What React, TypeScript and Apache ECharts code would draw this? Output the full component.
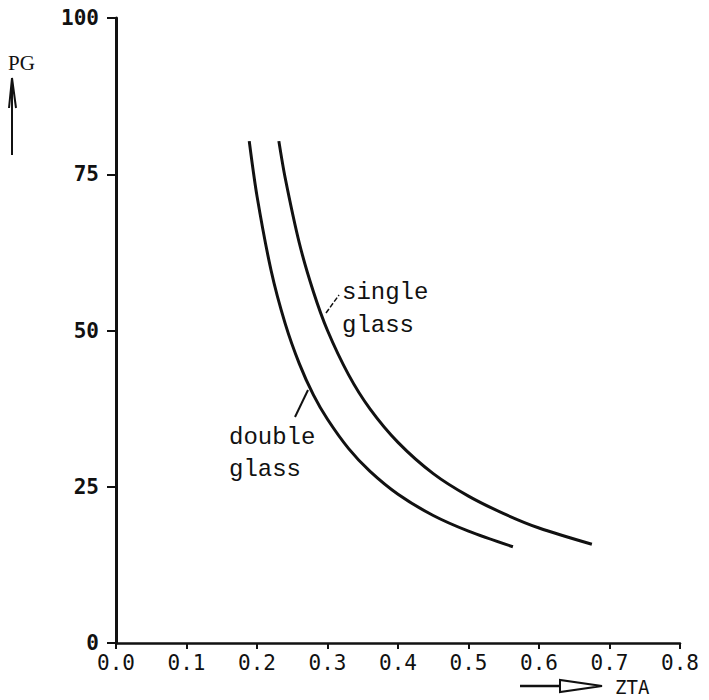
import React, { useEffect, useRef } from "react";
import * as echarts from "echarts";

const xTicks = [0, 0.1, 0.2, 0.3, 0.4, 0.5, 0.6, 0.7, 0.8];
const yTicks = [0, 25, 50, 75, 100];

const doubleX = [0.189, 0.2, 0.22, 0.24, 0.26, 0.28, 0.3, 0.33, 0.36, 0.4, 0.45, 0.5, 0.563];
const doubleY = [80.3, 71.5, 59.6, 51.1, 44.7, 39.7, 35.8, 31.1, 27.5, 23.8, 20.4, 17.9, 15.4];

const singleX = [0.231, 0.24, 0.26, 0.28, 0.3, 0.33, 0.36, 0.4, 0.45, 0.5, 0.55, 0.6, 0.675];
const singleY = [80.3, 74.4, 64.0, 56.2, 50.0, 42.9, 37.5, 32.1, 27.1, 23.5, 20.7, 18.4, 15.8];

const xName = "ZTA";
const yName = "PG";
const singleLabel = ["single", "glass"];
const doubleLabel = ["double", "glass"];

const tickFont = "'DejaVu Sans Mono', monospace";
const typeFont = "'Liberation Mono', 'Courier New', monospace";

export default function App() {
  const ref = useRef<HTMLDivElement>(null);
  useEffect(() => {
    if (!ref.current) return;
    const chart = echarts.init(ref.current, null, { renderer: "svg" });
    const zip = (xs: number[], ys: number[]) => xs.map((x, i) => [x, ys[i]]);
    chart.setOption({
      animation: false,
      backgroundColor: "#ffffff",
      grid: { left: 116, right: 29, top: 18, bottom: 57, containLabel: false },
      xAxis: {
        type: "value",
        min: xTicks[0],
        max: xTicks[xTicks.length - 1],
        interval: 0.1,
        axisLine: { show: true, lineStyle: { color: "#111", width: 2.5 } },
        axisTick: { show: true, length: 6, lineStyle: { color: "#111", width: 2 } },
        splitLine: { show: false },
        axisLabel: {
          margin: 9,
          color: "#111",
          fontFamily: tickFont,
          fontSize: 21,
          formatter: (v: number) => v.toFixed(1),
        },
      },
      yAxis: {
        type: "value",
        min: yTicks[0],
        max: yTicks[yTicks.length - 1],
        interval: 25,
        axisLine: { show: true, lineStyle: { color: "#111", width: 3 } },
        axisTick: { show: true, length: 9, lineStyle: { color: "#111", width: 2 } },
        splitLine: { show: false },
        axisLabel: {
          margin: 17,
          color: "#111",
          fontFamily: tickFont,
          fontSize: 21,
          fontWeight: "bold",
        },
      },
      series: [
        {
          name: "double glass",
          type: "line",
          data: zip(doubleX, doubleY),
          smooth: 0.3,
          showSymbol: false,
          lineStyle: { color: "#111", width: 3 },
        },
        {
          name: "single glass",
          type: "line",
          data: zip(singleX, singleY),
          smooth: 0.3,
          showSymbol: false,
          lineStyle: { color: "#111", width: 3 },
        },
      ],
      graphic: [
        {
          type: "text",
          x: 342,
          y: 292,
          style: { text: singleLabel[0], font: `24px ${typeFont}`, fill: "#111", textVerticalAlign: "middle" },
        },
        {
          type: "text",
          x: 342,
          y: 325,
          style: { text: singleLabel[1], font: `24px ${typeFont}`, fill: "#111", textVerticalAlign: "middle" },
        },
        {
          type: "line",
          shape: { x1: 326, y1: 313, x2: 339, y2: 295 },
          style: { stroke: "#111", lineWidth: 1.5, lineDash: [5, 2] },
        },
        {
          type: "text",
          x: 229,
          y: 437,
          style: { text: doubleLabel[0], font: `24px ${typeFont}`, fill: "#111", textVerticalAlign: "middle" },
        },
        {
          type: "text",
          x: 229,
          y: 469,
          style: { text: doubleLabel[1], font: `24px ${typeFont}`, fill: "#111", textVerticalAlign: "middle" },
        },
        {
          type: "line",
          shape: { x1: 295, y1: 417, x2: 308, y2: 390 },
          style: { stroke: "#111", lineWidth: 2 },
        },
        {
          type: "text",
          x: 8,
          y: 63,
          style: { text: yName, font: `21px 'Liberation Serif', serif`, fill: "#111", textVerticalAlign: "middle" },
        },
        {
          type: "line",
          shape: { x1: 12, y1: 155, x2: 12, y2: 80 },
          style: { stroke: "#111", lineWidth: 2 },
        },
        {
          type: "polyline",
          shape: { points: [[9, 108], [12, 78], [16, 108]] },
          style: { stroke: "#111", lineWidth: 2, fill: "none" },
        },
        {
          type: "line",
          shape: { x1: 520, y1: 686, x2: 560, y2: 686 },
          style: { stroke: "#111", lineWidth: 2.5 },
        },
        {
          type: "polygon",
          shape: { points: [[560, 680], [560, 692], [602, 686]] },
          style: { stroke: "#111", lineWidth: 2, fill: "none" },
        },
        {
          type: "text",
          x: 615,
          y: 687,
          style: { text: xName, font: `19px 'DejaVu Sans Mono', monospace`, fill: "#111", textVerticalAlign: "middle" },
        },
      ],
    });
    return () => chart.dispose();
  }, []);
  return (
    <div
      ref={ref}
      style={{ position: "fixed", left: 0, top: 0, width: 709, height: 700, background: "#fff" }}
    />
  );
}
